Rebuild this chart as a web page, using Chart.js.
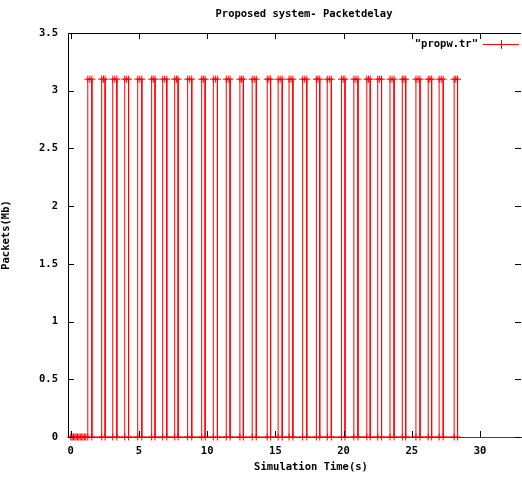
<!DOCTYPE html>
<html>
<head>
<meta charset="utf-8">
<script src="https://cdn.jsdelivr.net/npm/chart.js@4/dist/chart.umd.min.js"></script>
<style>
  html, body { margin: 0; padding: 0; background: #fff; }
  #wrap { width: 522px; height: 477px; }
</style>
</head>
<body>
<div id="wrap"><canvas id="delayChart" width="522" height="477"></canvas></div>
<script>
// sampled from propw.tr
const simTime = [
  0, 0.1, 0.2, 0.3, 0.4, 0.5, 0.6, 0.7, 0.8, 0.9, 1.0, 1.1,
  1.25, 1.25, 1.40, 1.55, 1.55,
  2.27, 2.27, 2.40, 2.52, 2.52,
  3.08, 3.08, 3.23, 3.38, 3.38,
  3.96, 3.96, 4.10, 4.24, 4.24,
  4.91, 4.91, 5.06, 5.21, 5.21,
  5.93, 5.93, 6.05, 6.18, 6.18,
  6.74, 6.74, 6.89, 7.04, 7.04,
  7.62, 7.62, 7.75, 7.87, 7.87,
  8.57, 8.57, 8.72, 8.87, 8.87,
  9.60, 9.60, 9.72, 9.85, 9.85,
  10.45, 10.45, 10.60, 10.75, 10.75,
  11.40, 11.40, 11.54, 11.68, 11.68,
  12.40, 12.40, 12.52, 12.65, 12.65,
  13.30, 13.30, 13.45, 13.60, 13.60,
  14.40, 14.40, 14.52, 14.65, 14.65,
  15.20, 15.20, 15.35, 15.50, 15.50,
  16.00, 16.00, 16.14, 16.28, 16.28,
  17.00, 17.00, 17.15, 17.30, 17.30,
  18.00, 18.00, 18.12, 18.25, 18.25,
  18.80, 18.80, 18.95, 19.10, 19.10,
  19.85, 19.85, 19.97, 20.10, 20.10,
  20.75, 20.75, 20.90, 21.05, 21.05,
  21.70, 21.70, 21.82, 21.95, 21.95,
  22.50, 22.50, 22.64, 22.78, 22.78,
  23.40, 23.40, 23.55, 23.70, 23.70,
  24.30, 24.30, 24.42, 24.55, 24.55,
  25.30, 25.30, 25.45, 25.60, 25.60,
  26.20, 26.20, 26.32, 26.45, 26.45,
  27.00, 27.00, 27.15, 27.30, 27.30,
  28.10, 28.10, 28.22, 28.35, 28.35
];
const packetDelay = [
  0, 0, 0, 0, 0, 0, 0, 0, 0, 0, 0, 0,
  0, 3.1, 3.1, 3.1, 0,
  0, 3.1, 3.1, 3.1, 0,
  0, 3.1, 3.1, 3.1, 0,
  0, 3.1, 3.1, 3.1, 0,
  0, 3.1, 3.1, 3.1, 0,
  0, 3.1, 3.1, 3.1, 0,
  0, 3.1, 3.1, 3.1, 0,
  0, 3.1, 3.1, 3.1, 0,
  0, 3.1, 3.1, 3.1, 0,
  0, 3.1, 3.1, 3.1, 0,
  0, 3.1, 3.1, 3.1, 0,
  0, 3.1, 3.1, 3.1, 0,
  0, 3.1, 3.1, 3.1, 0,
  0, 3.1, 3.1, 3.1, 0,
  0, 3.1, 3.1, 3.1, 0,
  0, 3.1, 3.1, 3.1, 0,
  0, 3.1, 3.1, 3.1, 0,
  0, 3.1, 3.1, 3.1, 0,
  0, 3.1, 3.1, 3.1, 0,
  0, 3.1, 3.1, 3.1, 0,
  0, 3.1, 3.1, 3.1, 0,
  0, 3.1, 3.1, 3.1, 0,
  0, 3.1, 3.1, 3.1, 0,
  0, 3.1, 3.1, 3.1, 0,
  0, 3.1, 3.1, 3.1, 0,
  0, 3.1, 3.1, 3.1, 0,
  0, 3.1, 3.1, 3.1, 0,
  0, 3.1, 3.1, 3.1, 0,
  0, 3.1, 3.1, 3.1, 0,
  0, 3.1, 3.1, 3.1, 0
];
const xTicks = [0, 5, 10, 15, 20, 25, 30];
const yTicks = [0, 0.5, 1, 1.5, 2, 2.5, 3, 3.5];

const chartTitle = 'Proposed system- Packetdelay';
const xTitle = 'Simulation Time(s)';
const seriesName = '"propw.tr"';

const FONT = '"DejaVu Sans Mono", monospace';
const RED = '#ff0000';
const PLOT_RIGHT = 521;

// gnuplot-ish extras: title, x label, inward ticks, top border, key
const gnuplotLook = {
  id: 'gnuplotLook',
  afterLayout(chart) {
    // stretch the plot to the right edge like the original
    const a = chart.chartArea, x = chart.scales.x;
    a.right = PLOT_RIGHT;
    a.width = a.right - a.left;
    x.right = PLOT_RIGHT;
    x.width = x.right - x.left;
    x.configure();
    x._labelItems = null;
  },
  afterDraw(chart) {
    const { ctx, chartArea: a, scales } = chart;
    ctx.save();
    ctx.strokeStyle = '#000';
    ctx.lineWidth = 1;
    ctx.beginPath();
    scales.y.ticks.forEach(t => {
      const py = Math.round(scales.y.getPixelForValue(t.value)) + 0.5;
      ctx.moveTo(a.left, py); ctx.lineTo(a.left + 6, py);
      ctx.moveTo(a.right, py); ctx.lineTo(a.right - 6, py);
    });
    scales.x.ticks.forEach(t => {
      const px = Math.round(scales.x.getPixelForValue(t.value)) + 0.5;
      ctx.moveTo(px, a.bottom); ctx.lineTo(px, a.bottom - 6);
      ctx.moveTo(px, a.top); ctx.lineTo(px, a.top + 6);
    });
    ctx.moveTo(a.left, a.top + 0.5); ctx.lineTo(a.right, a.top + 0.5);
    ctx.stroke();

    ctx.fillStyle = '#000';
    ctx.font = 'bold 10.5px ' + FONT;
    ctx.textAlign = 'center';
    ctx.textBaseline = 'middle';
    ctx.fillText(chartTitle, 304, 14);
    ctx.fillText(xTitle, 311, 467);

    // key
    ctx.textAlign = 'right';
    ctx.fillText(seriesName, 478, 44);
    ctx.strokeStyle = RED;
    ctx.beginPath();
    ctx.moveTo(483, 44.5); ctx.lineTo(519, 44.5);
    ctx.moveTo(501.5, 40); ctx.lineTo(501.5, 49);
    ctx.stroke();
    ctx.restore();
  }
};

new Chart(document.getElementById('delayChart'), {
  type: 'line',
  data: {
    datasets: [{
      label: seriesName,
      data: simTime.map((t, i) => ({ x: t, y: packetDelay[i] })),
      borderColor: RED,
      backgroundColor: RED,
      borderWidth: 1,
      pointStyle: 'cross',
      pointRadius: 3.5,
      pointBorderWidth: 1,
      pointBorderColor: RED,
      tension: 0,
      fill: false,
      clip: false
    }]
  },
  options: {
    responsive: false,
    animation: false,
    layout: { padding: { top: 33, right: 0, bottom: 0, left: 0 } },
    plugins: {
      legend: { display: false },
      title: { display: false },
      tooltip: { enabled: false }
    },
    scales: {
      x: {
        type: 'linear',
        min: -0.2,
        max: 33,
        afterBuildTicks: s => { s.ticks = xTicks.map(v => ({ value: v })); },
        afterFit: s => { s.height = 40; },
        grid: { display: true, drawOnChartArea: false, drawTicks: false },
        border: { display: true, color: '#444', width: 1 },
        ticks: {
          color: '#000',
          padding: 8,
          maxRotation: 0,
          callback: v => String(v),
          font: { family: FONT, size: 10.5, weight: 'bold' }
        }
      },
      y: {
        min: 0,
        max: 3.5,
        afterBuildTicks: s => { s.ticks = yTicks.map(v => ({ value: v })); },
        afterFit: s => { s.width = 68; },
        grid: { display: true, drawOnChartArea: false, drawTicks: false },
        border: { display: true, color: '#000', width: 1 },
        ticks: {
          color: '#000',
          padding: 10,
          callback: v => String(v),
          font: { family: FONT, size: 10.5, weight: 'bold' }
        },
        title: {
          display: true,
          text: 'Packets(Mb)',
          color: '#000',
          padding: { top: 0, bottom: 8 },
          font: { family: FONT, size: 10.5, weight: 'bold' }
        }
      }
    }
  },
  plugins: [gnuplotLook]
});
</script>
</body>
</html>
